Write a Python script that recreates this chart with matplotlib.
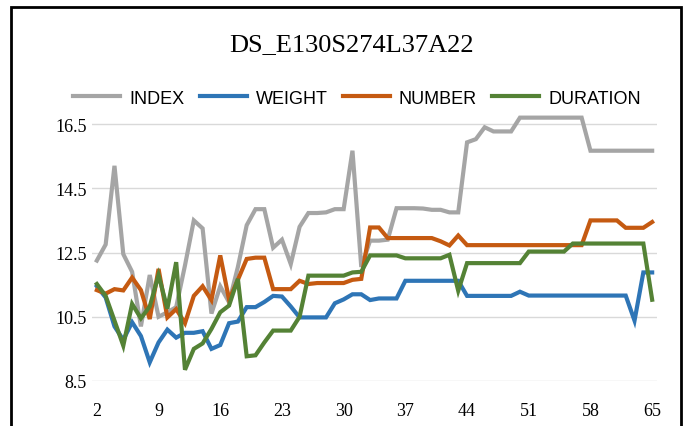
import numpy as np
import matplotlib
matplotlib.use("Agg")
import matplotlib.pyplot as plt
from matplotlib.patches import Rectangle

# ---------- data ----------
x_vals = list(range(2, 66))
x_ticks = list(range(2, 66, 7))
y_ticks = [8.5, 10.5, 12.5, 14.5, 16.5]

index_vals = [12.25, 12.75, 15.2, 12.45, 11.9, 10.2, 11.8, 10.5, 10.64, 10.8,
              12.1, 13.5, 13.25, 10.6, 11.45, 10.95, 12.05, 13.35, 13.85, 13.85,
              12.65, 12.9, 12.14, 13.3, 13.73, 13.73, 13.75, 13.85, 13.85, 15.67,
              12.05, 12.87, 12.87, 12.9, 13.88, 13.88, 13.88, 13.87, 13.83, 13.83,
              13.75, 13.75, 15.93, 16.03, 16.4, 16.27, 16.27, 16.27, 16.7, 16.7,
              16.7, 16.7, 16.7, 16.7, 16.7, 16.7, 15.67, 15.67, 15.67, 15.67,
              15.67, 15.67, 15.67, 15.67]
weight_vals = [11.45, 11.1, 10.2, 9.78, 10.33, 9.9, 9.08, 9.7, 10.1, 9.85,
               10.0, 10.0, 10.05, 9.5, 9.62, 10.3, 10.35, 10.8, 10.8, 10.96,
               11.15, 11.13, 10.82, 10.48, 10.48, 10.48, 10.48, 10.92, 11.04, 11.2,
               11.2, 11.02, 11.07, 11.07, 11.07, 11.62, 11.62, 11.62, 11.62, 11.62,
               11.62, 11.62, 11.15, 11.15, 11.15, 11.15, 11.15, 11.15, 11.28, 11.16,
               11.16, 11.16, 11.16, 11.16, 11.16, 11.16, 11.16, 11.16, 11.16, 11.16,
               11.16, 10.38, 11.88, 11.88]
number_vals = [11.33, 11.22, 11.36, 11.32, 11.72, 11.33, 10.43, 11.99, 10.48, 10.74,
               10.3, 11.15, 11.45, 11.02, 12.41, 11.03, 11.65, 12.3, 12.34, 12.34,
               11.36, 11.36, 11.36, 11.62, 11.52, 11.55, 11.55, 11.55, 11.55, 11.65,
               11.68, 13.28, 13.28, 12.95, 12.95, 12.95, 12.95, 12.95, 12.95, 12.85,
               12.72, 13.03, 12.73, 12.73, 12.73, 12.73, 12.73, 12.73, 12.73, 12.73,
               12.73, 12.73, 12.73, 12.73, 12.73, 12.73, 13.5, 13.5, 13.5, 13.5,
               13.27, 13.27, 13.27, 13.45]
duration_vals = [11.52, 11.15, 10.38, 9.6, 10.9, 10.45, 10.82, 11.8, 10.75, 12.2,
                 8.85, 9.5, 9.67, 10.12, 10.64, 10.85, 11.68, 9.27, 9.3, 9.7,
                 10.07, 10.07, 10.07, 10.5, 11.78, 11.78, 11.78, 11.78, 11.78, 11.88,
                 11.9, 12.41, 12.41, 12.41, 12.41, 12.32, 12.32, 12.32, 12.32, 12.32,
                 12.43, 11.31, 12.17, 12.17, 12.17, 12.17, 12.17, 12.17, 12.17, 12.53,
                 12.53, 12.53, 12.53, 12.53, 12.78, 12.78, 12.78, 12.78, 12.78, 12.78,
                 12.78, 12.78, 12.78, 11.03]

series = [("INDEX", index_vals, "#A5A5A5"),
          ("WEIGHT", weight_vals, "#2E75B6"),
          ("NUMBER", number_vals, "#C55A11"),
          ("DURATION", duration_vals, "#548235")]

serif = ["Liberation Serif", "DejaVu Serif"]
sans = ["Liberation Sans", "DejaVu Sans"]

fig = plt.figure(figsize=(6.9, 4.27), dpi=100)
ax = fig.add_axes([92 / 690, 45 / 427, 565 / 690, 273 / 427])

for name, vals, col in series:
    ax.plot(x_vals, vals, color=col, lw=3.0, label=name, solid_joinstyle="miter")

ax.set_xlim(1.45, 65.55)
ax.set_ylim(8.5, 17.0)
ax.set_xticks(x_ticks)
ax.set_yticks(y_ticks)
ax.set_yticklabels([f"{v:.1f}" for v in y_ticks])
ax.yaxis.grid(True, color="#D9D9D9", lw=1.0)
ax.set_axisbelow(True)
for s in ax.spines.values():
    s.set_visible(False)
ax.tick_params(length=0)
ax.tick_params(axis="x", pad=15)
ax.tick_params(axis="y", pad=4)
for lab in ax.get_xticklabels() + ax.get_yticklabels():
    lab.set_fontfamily(serif)
    lab.set_fontsize(13)

fig.text(352 / 690, 1 - 45 / 427, "DS_E130S274L37A22", ha="center", va="center",
         fontsize=19, family=serif)

leg = fig.legend(loc="center", bbox_to_anchor=(357 / 690, 1 - 99 / 427), ncol=4,
                 frameon=False, handlelength=2.6, handletextpad=0.5, columnspacing=0.85,
                 prop={"family": sans, "size": 13})

# chart frame
fig.patches.append(Rectangle((11 / 690, -0.05), 670 / 690, 1.05 - 8 / 427,
                             transform=fig.transFigure, fill=False,
                             edgecolor="black", lw=2.0))

fig.savefig("out.png", dpi=100)
